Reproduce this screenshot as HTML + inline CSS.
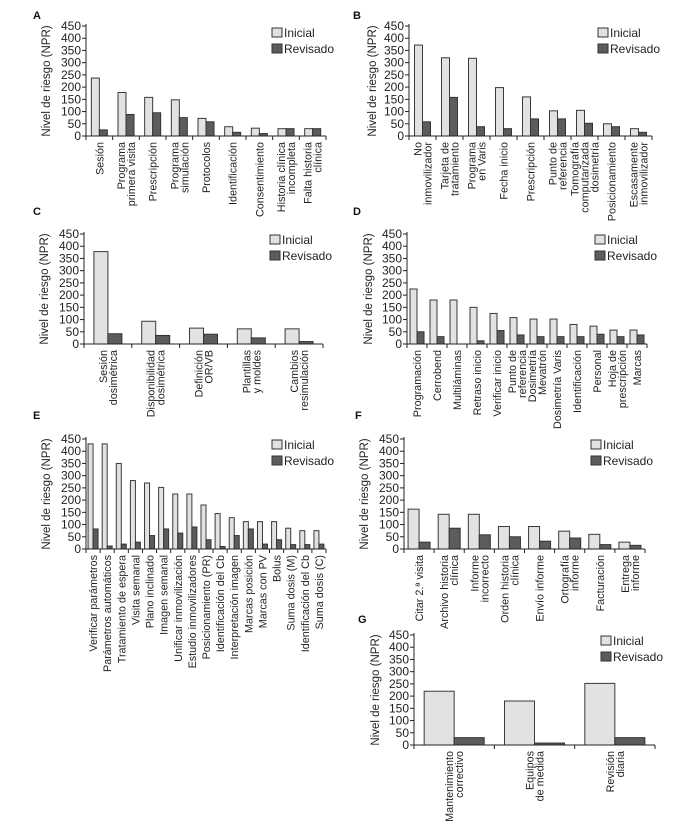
<!DOCTYPE html>
<html><head><meta charset="utf-8">
<style>
body{margin:0;background:#fff;}
svg{display:block;font-family:"Liberation Sans",sans-serif;}
</style></head>
<body>
<svg id="chart" width="700" height="822" viewBox="0 0 700 822" xmlns="http://www.w3.org/2000/svg"></svg>
<script>
const catsA=["Sesión","Programa|primera visita","Prescripción","Programa|simulación","Protocolos","Identificación","Consentimiento","Historia clínica|incompleta","Falta historia|clínica"];
const iniA=[237,178,158,148,72,38,32,30,30];
const revA=[25,88,95,75,58,15,10,30,30];
const catsB=["No|inmovilizador","Tarjeta de|tratamiento","Programa|en Varis","Fecha inicio","Prescripción","Punto de|referencia","Tomografía|computarizada|dosimetría","Posicionamiento","Escasamente|inmovilizador"];
const iniB=[372,320,318,198,160,103,105,50,30];
const revB=[58,158,38,30,70,70,52,38,15];
const catsC=["Sesión|dosimétrica","Disponibilidad|dosimétrica","Definición|OR/VB","Plantillas|y moldes","Cambios|resimulación"];
const iniC=[378,93,65,62,62];
const revC=[42,35,40,25,10];
const catsD=["Programación","Cerrobend","Multiláminas","Retraso inicio","Verificar inicio","Punto de|referencia","Dosimetría|Mevatrón","Dosimetría Varis","Identificación","Personal","Hoja de|prescripción","Marcas"];
const iniD=[225,180,180,150,125,108,102,102,80,73,57,57];
const revD=[50,30,0,13,55,37,30,30,30,40,30,37];
const catsE=["Verificar parámetros","Parámetros automáticos","Tratamiento de espera","Visita semanal","Plano inclinado","Imagen semanal","Unificar inmovilización","Estudio inmovilizadores","Posicionamiento (PR)","Identificación del Cb","Interpretación imagen","Marcas posición","Marcas con PV","Bolus","Suma dosis (M)","Identificación del Cb","Suma dosis (C)"];
const iniE=[430,430,350,280,270,252,225,225,180,145,128,112,112,112,85,75,75];
const revE=[82,12,20,28,55,82,65,90,38,10,55,82,20,38,18,18,20];
const catsF=["Citar 2.ª visita","Archivo historia|clínica","Informe|incorrecto","Orden historia|clínica","Envío informe","Ortografía|informe","Facturación","Entrega|informe"];
const iniF=[163,142,142,92,92,73,60,28];
const revF=[28,85,58,50,32,45,18,15];
const catsG=["Mantenimiento|correctivo","Equipos|de medida","Revisión|diaria"];
const iniG=[220,180,252];
const revG=[30,8,30];
const yTicks=[0,50,100,150,200,250,300,350,400,450];
const legendLabels=["Inicial","Revisado"];

const NS="http://www.w3.org/2000/svg";
const svg=document.getElementById('chart');
function mk(tag,attrs,parent){const e=document.createElementNS(NS,tag);for(const k in attrs)e.setAttribute(k,attrs[k]);(parent||svg).appendChild(e);return e;}

function panel(id,letter,lx,ly,x0,x1,y0,yTop,titleX,legX,legY,cats,ini,rev,bw){
  const g=mk('g',{});
  
  
  const yScale=v=>y0-(v/450)*(y0-yTop);
  const cw=(x1-x0)/cats.length;
  const xBand=i=>x0+i*cw;
  const L=mk('text',{x:lx,y:ly,'font-size':11,'font-weight':'bold',fill:'#111'},g);L.textContent=letter;
  
  
  ini.forEach((v,i)=>{
    const cx=xBand(i)+cw/2;
    const r=mk('rect',{x:cx-bw,y:yScale(v),width:bw,height:y0-yScale(v),fill:'#e2e2e2',stroke:'#3a3a3a','stroke-width':1},g);
    
    
    const rv=rev[i];
    const r2=mk('rect',{x:cx,y:yScale(rv),width:bw,height:y0-yScale(rv),fill:'#5c5c5c',stroke:'#333','stroke-width':1},g);
    
    
  });
  const ya=mk('line',{x1:x0,y1:yTop-2,x2:x0,y2:y0,stroke:'#222','stroke-width':1},g);
  
  
  const xa=mk('line',{x1:x0,y1:y0,x2:x1,y2:y0,stroke:'#222','stroke-width':1},g);
  
  
  yTicks.forEach(t=>{
    const y=yScale(t);
    mk('line',{x1:x0-4,y1:y,x2:x0,y2:y,stroke:'#222'},g);
    const tl=mk('text',{x:x0-5,y:y+4,'font-size':12,'text-anchor':'end',fill:'#222'},g);
    tl.textContent=t;
    
    
  });
  for(let i=0;i<=cats.length;i++){mk('line',{x1:xBand(i),y1:y0,x2:xBand(i),y2:y0+4,stroke:'#222'},g);}
  cats.forEach((c,i)=>{
    const lines=c.split('|');
    const cx=xBand(i)+cw/2;
    lines.forEach((ln,j)=>{
      const xx=cx+(j-(lines.length-1)/2)*10+4;
      const t=mk('text',{x:xx,y:y0+6,'font-size':10.8,'text-anchor':'end',fill:'#222',transform:`rotate(-90 ${xx} ${y0+6})`},g);
      t.textContent=ln;
      
      
    });
  });
  const ym=(y0+yTop)/2;
  const tt=mk('text',{x:titleX,y:ym,'font-size':11.5,'text-anchor':'middle',fill:'#222',transform:`rotate(-90 ${titleX} ${ym})`},g);
  tt.textContent='Nivel de riesgo (NPR)';
  
  
  legendLabels.forEach((lab,k)=>{
    const yy=legY+k*16;
    const b=mk('rect',{x:legX,y:yy-4,width:10,height:9,fill:k?'#5c5c5c':'#e2e2e2',stroke:'#333'},g);
    
    
    const t=mk('text',{x:legX+12,y:yy+5,'font-size':12,fill:'#222'},g);
    t.textContent=lab;
    
    
  });
}
panel('a','A',33,19,86,326,136,26,50,272,32,catsA,iniA,revA,8);
panel('b','B',353,19,409,652,136,26,376,598,32,catsB,iniB,revB,8);
panel('c','C',33,215,84,323,344,234,48,270,239,catsC,iniC,revC,14);
panel('d','D',353,215,407,647,344,234,372,595,239,catsD,iniD,revD,7);
panel('e','E',33,419,86,326,549,439,50,272,444,catsE,iniE,revE,5);
panel('f','F',355,419,404,645,549,439,368,591,444,catsF,iniF,revF,11);
panel('g','G',358,623,414,655,745,635,379,601,640,catsG,iniG,revG,30);
</script>
</body></html>
